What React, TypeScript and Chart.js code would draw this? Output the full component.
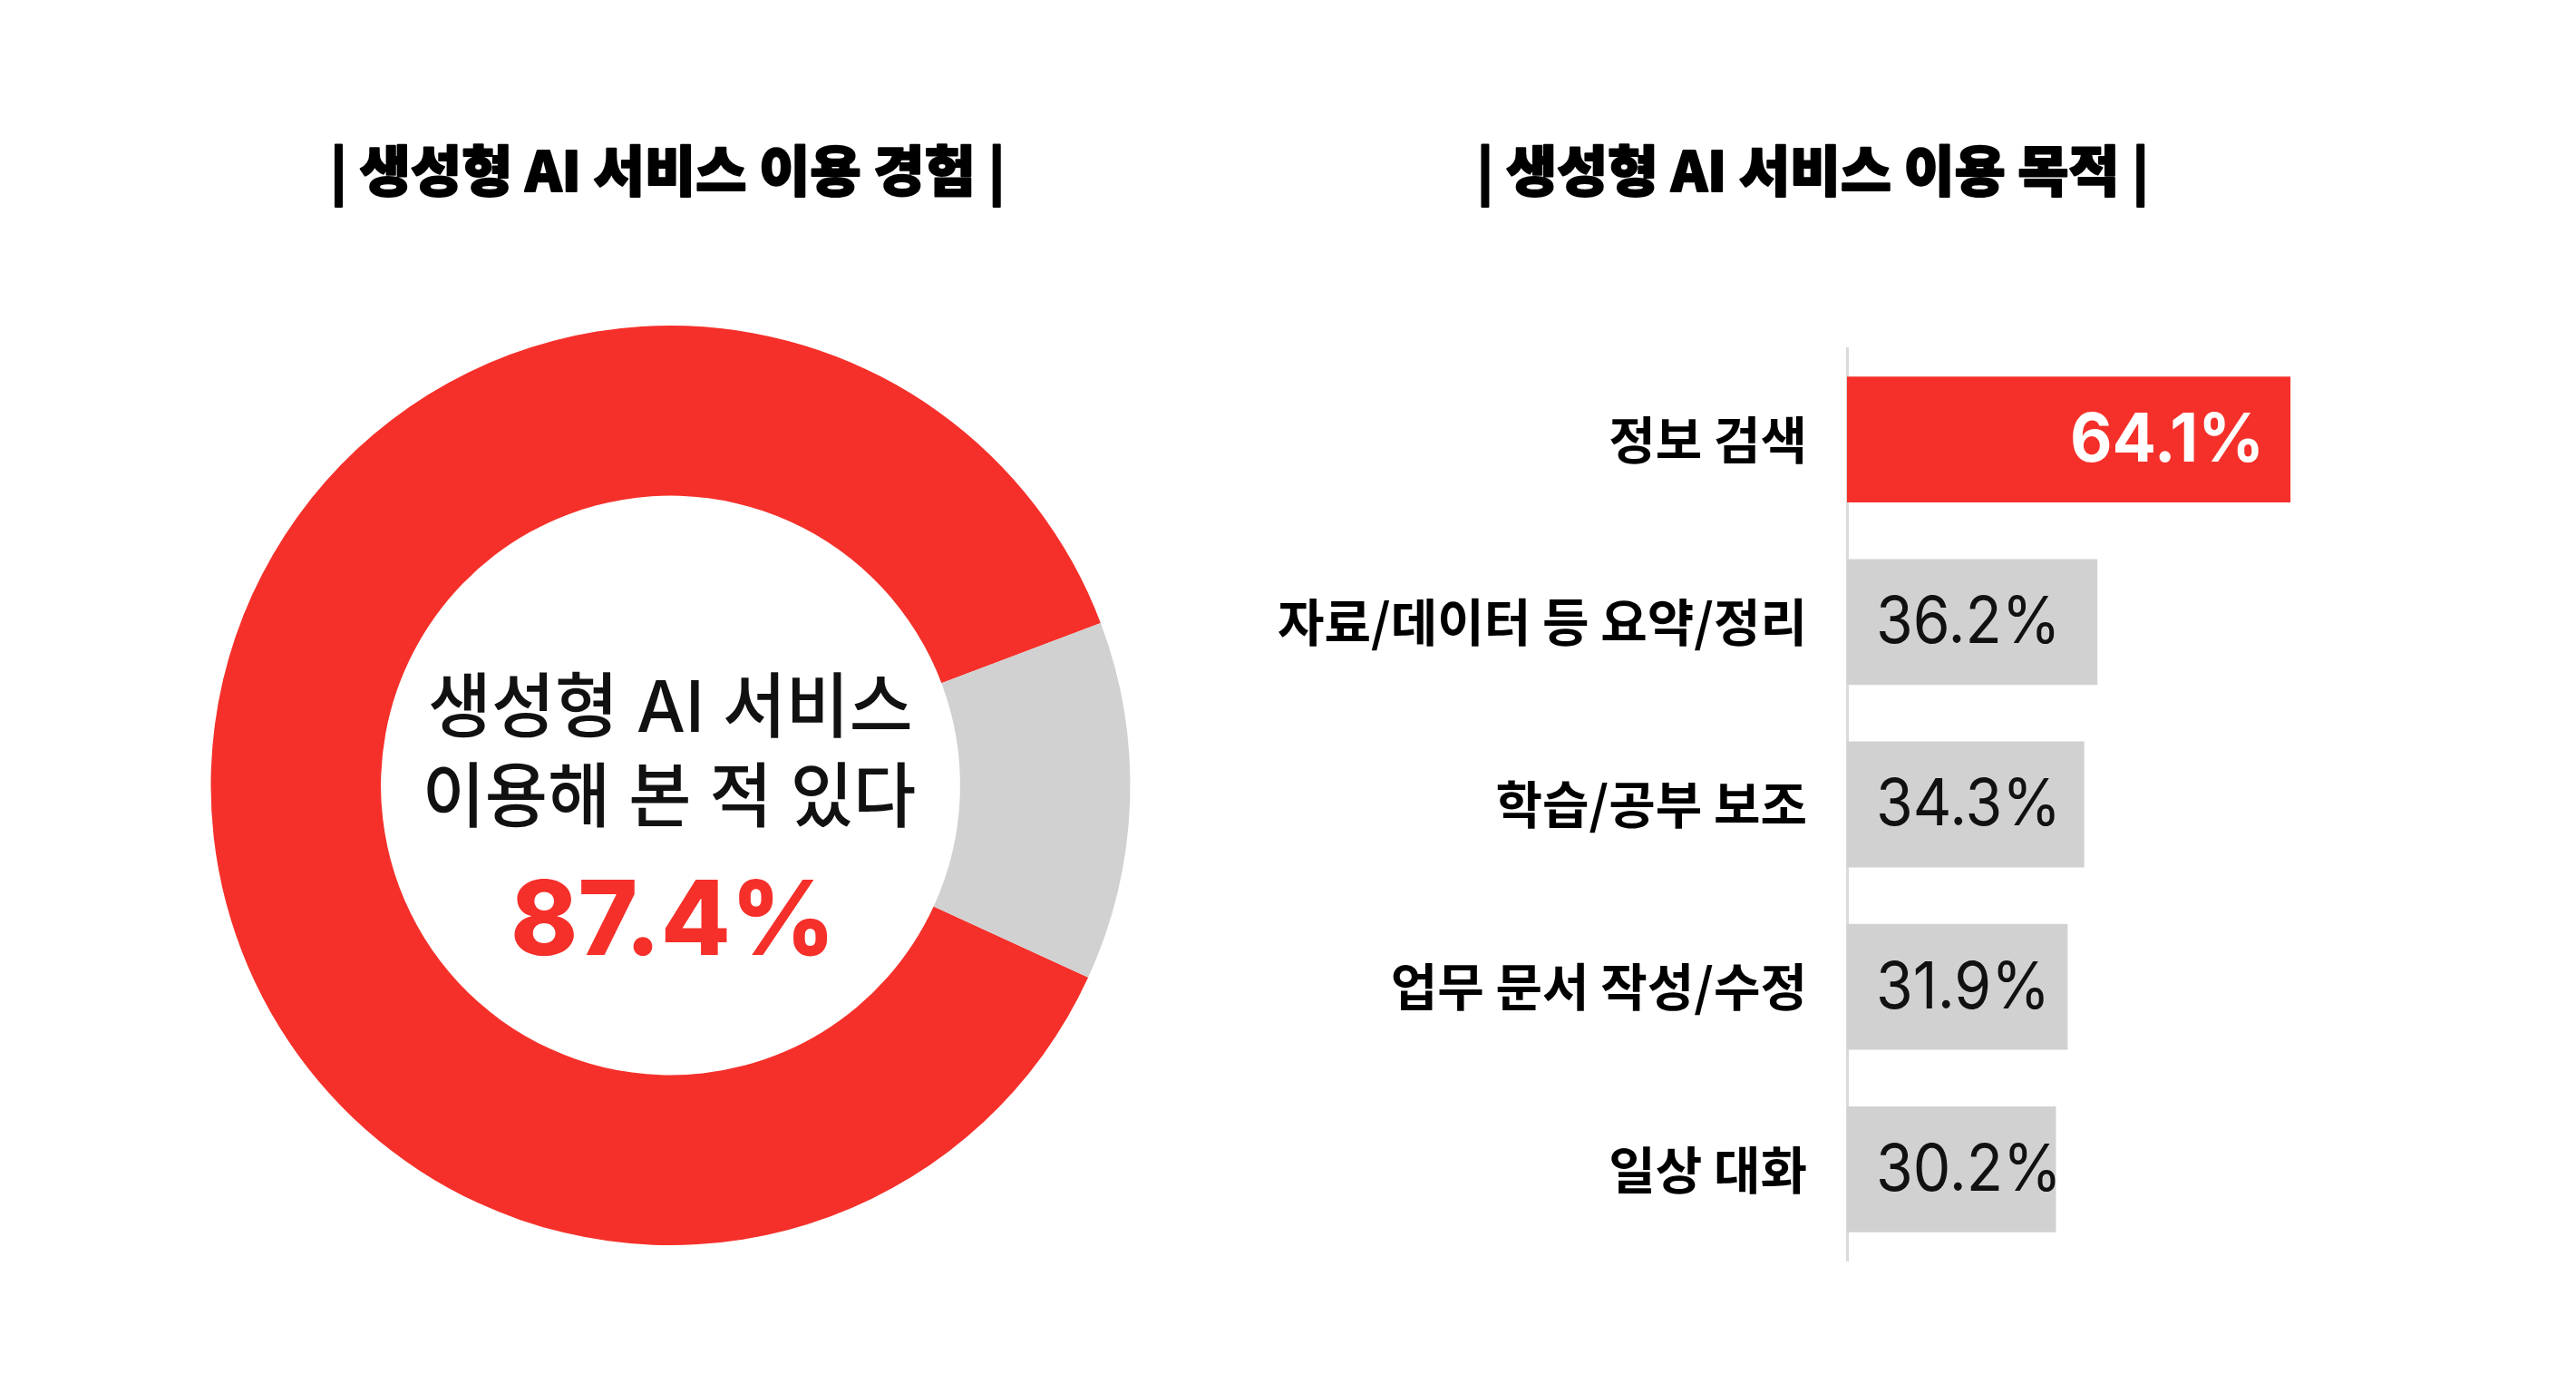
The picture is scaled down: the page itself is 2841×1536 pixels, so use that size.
import React, { useEffect, useRef } from 'react';
import { Chart, registerables } from 'chart.js';

Chart.register(...registerables);

// ---------- data ----------
const donutTitle = '| 생성형 AI 서비스 이용 경험 |';
const barTitle = '| 생성형 AI 서비스 이용 목적 |';
const donutLabels = ['이용해 본 적 있다', '이용해 본 적 없다'];
const donutValues = [87.4, 12.6];
const centerLines = ['생성형 AI 서비스', '이용해 본 적 있다'];
const purposeLabels = ['정보 검색', '자료/데이터 등 요약/정리', '학습/공부 보조', '업무 문서 작성/수정', '일상 대화'];
const purposeValues = [64.1, 36.2, 34.3, 31.9, 30.2];

// ---------- styles ----------
const RED = '#F5302A';
const GRAY = '#D1D1D1';
const AXIS = '#DADADA';
const INK = '#111111';
const FONT = "Inter, 'Noto Sans CJK KR', sans-serif";
const KFONT = "'Noto Sans CJK KR', Inter, sans-serif";
const TFONT = "'Noto Sans CJK KR Black', 'Noto Sans CJK KR', sans-serif";

const W = 2841;
const H = 1536;
const LEFT_W = 1300;

function drawFit(
  ctx: CanvasRenderingContext2D,
  text: string,
  cx: number,
  cy: number,
  font: string,
  color: string,
  inkWidth: number,
  vRef?: string,
  stroke = 0
) {
  ctx.save();
  ctx.font = font;
  ctx.fillStyle = color;
  ctx.strokeStyle = color;
  ctx.textAlign = 'left';
  ctx.textBaseline = 'alphabetic';
  const m = ctx.measureText(text);
  const ink = m.actualBoundingBoxLeft + m.actualBoundingBoxRight;
  const s = inkWidth / ink;
  const mv = vRef ? ctx.measureText(vRef) : m;
  const asc = mv.actualBoundingBoxAscent;
  const desc = mv.actualBoundingBoxDescent;
  ctx.translate(cx, cy - (desc - asc) / 2);
  ctx.scale(s, 1);
  const x0 = -(m.actualBoundingBoxRight - m.actualBoundingBoxLeft) / 2;
  ctx.fillText(text, x0, 0);
  if (stroke > 0) {
    ctx.lineWidth = stroke;
    ctx.lineJoin = 'round';
    ctx.strokeText(text, x0, 0);
  }
  ctx.restore();
}

function drawScaled(
  ctx: CanvasRenderingContext2D,
  text: string,
  x: number,
  y: number,
  font: string,
  color: string,
  align: 'left' | 'right',
  sx: number
) {
  ctx.save();
  ctx.font = font;
  ctx.fillStyle = color;
  ctx.textAlign = align;
  ctx.textBaseline = 'middle';
  ctx.translate(x, y);
  ctx.scale(sx, 1);
  ctx.fillText(text, 0, 0);
  ctx.restore();
}

const donutText = {
  id: 'donutText',
  afterDraw(chart: any) {
    const ctx = chart.ctx as CanvasRenderingContext2D;
    const meta = chart.getDatasetMeta(0);
    const arc = meta.data[0];
    const cx = arc.x;
    const cy = arc.y;
    drawFit(ctx, donutTitle, 736, 188, `900 60px ${TFONT}`, '#000', 734, '생성형', 2);
    drawFit(ctx, centerLines[0], cx, cy - 89, `500 78px ${FONT}`, INK, 529, '생성형');
    drawFit(ctx, centerLines[1], cx, cy + 10, `500 78px ${FONT}`, INK, 538, '이용해');
    const pct = donutValues[0].toFixed(1) + '%';
    drawFit(ctx, pct, cx, cy + 145, `800 114px ${FONT}`, RED, 345, '87');
  },
};

const barText = {
  id: 'barText',
  afterDatasetsDraw(chart: any) {
    const ctx = chart.ctx as CanvasRenderingContext2D;
    const meta = chart.getDatasetMeta(0);
    drawFit(ctx, barTitle, 1999 - LEFT_W, 188, `900 60px ${TFONT}`, '#000', 731, '생성형', 2);
    meta.data.forEach((bar: any, i: number) => {
      const { x, y, base } = bar.getProps(['x', 'y', 'base'], true);
      const text = purposeValues[i].toFixed(1) + '%';
      if (i === 0) {
        drawScaled(ctx, text, x - 29, y + 2, `700 74px ${FONT}`, '#ffffff', 'right', 0.97);
      } else {
        drawScaled(ctx, text, base + 32, y + 2, `400 71px ${FONT}`, INK, 'left', 0.93);
      }
    });
  },
};

export default function App() {
  const donutRef = useRef<HTMLCanvasElement>(null);
  const barRef = useRef<HTMLCanvasElement>(null);

  useEffect(() => {
    const donut = new Chart(donutRef.current!, {
      type: 'doughnut',
      data: {
        labels: donutLabels,
        datasets: [
          {
            data: donutValues,
            backgroundColor: [RED, GRAY],
            borderWidth: 0,
            hoverOffset: 0,
          },
        ],
      },
      options: {
        responsive: false,
        animation: false,
        radius: 507,
        cutout: '63%',
        rotation: 114.7,
        layout: { padding: { left: 179, right: 0, top: 196, bottom: 0 } },
        plugins: { legend: { display: false }, tooltip: { enabled: false } },
      } as any,
      plugins: [donutText],
    });

    const bar = new Chart(barRef.current!, {
      type: 'bar',
      data: {
        labels: purposeLabels,
        datasets: [
          {
            data: purposeValues,
            backgroundColor: purposeValues.map((_, i) => (i === 0 ? RED : GRAY)),
            borderWidth: 0,
            barPercentage: 0.69,
            categoryPercentage: 1,
          },
        ],
      },
      options: {
        indexAxis: 'y',
        responsive: false,
        animation: false,
        layout: { padding: { top: 384, bottom: 146, right: 41, left: 0 } },
        scales: {
          x: { display: false, min: 0, max: 100 },
          y: {
            grid: { display: false, drawTicks: false },
            border: { display: true, color: AXIS, width: 3 },
            ticks: {
              color: '#000',
              padding: 44,
              font: { family: KFONT, size: 56, weight: 600 },
            },
            afterFit(scale: any) {
              scale.width = 2037 - LEFT_W;
            },
          },
        },
        plugins: { legend: { display: false }, tooltip: { enabled: false } },
      } as any,
      plugins: [barText],
    });

    return () => {
      donut.destroy();
      bar.destroy();
    };
  }, []);

  return (
    <div style={{ position: 'absolute', left: 0, top: 0, width: W, height: H, background: '#fff' }}>
      <canvas
        ref={donutRef}
        width={LEFT_W}
        height={H}
        style={{ position: 'absolute', left: 0, top: 0, width: LEFT_W, height: H }}
      />
      <canvas
        ref={barRef}
        width={W - LEFT_W}
        height={H}
        style={{ position: 'absolute', left: LEFT_W, top: 0, width: W - LEFT_W, height: H }}
      />
    </div>
  );
}
